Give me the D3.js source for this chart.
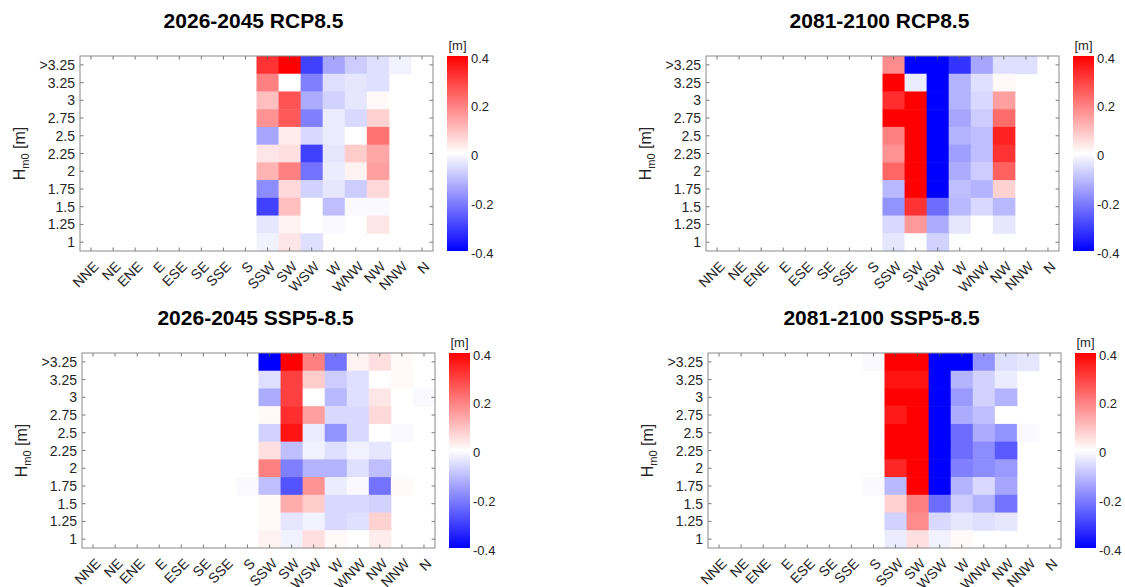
<!DOCTYPE html>
<html>
<head>
<meta charset="utf-8">
<script src="https://cdn.jsdelivr.net/npm/d3@7"></script>
<style>
  body { margin: 0; background: #fff; }
  svg { font-family: "Liberation Sans", Arial, sans-serif; }
</style>
</head>
<body>
<svg width="1125" height="587"></svg>
<script>
const _ = null;
const directions = ["NNE","NE","ENE","E","ESE","SE","SSE","S","SSW","SW","WSW","W","WNW","NW","NNW","N"];
// wave height classes, top row first
const heights = [">3.25","3.25","3","2.75","2.5","2.25","2","1.75","1.5","1.25","1"];
const colorTicks = [0.4, 0.2, 0, -0.2, -0.4];
const titles = ["2026-2045 RCP8.5", "2081-2100 RCP8.5", "2026-2045 SSP5-8.5", "2081-2100 SSP5-8.5"];

// change in wave height [m], rows follow `heights`, columns follow `directions`
const rcp2026 = [
  [_,_,_,_,_,_,_,_, 0.32, 0.40,-0.30,-0.14,-0.08,-0.05,-0.02,_],
  [_,_,_,_,_,_,_,_, 0.20, 0.00,-0.20,-0.05,-0.04,-0.05,_,_],
  [_,_,_,_,_,_,_,_, 0.10, 0.27,-0.13,-0.07,-0.04, 0.01,_,_],
  [_,_,_,_,_,_,_,_, 0.17, 0.26,-0.20,-0.03,-0.06, 0.07,_,_],
  [_,_,_,_,_,_,_,_,-0.14, 0.03,-0.06,-0.03, 0.00, 0.22,_,_],
  [_,_,_,_,_,_,_,_, 0.04, 0.05,-0.30,-0.04, 0.08, 0.14,_,_],
  [_,_,_,_,_,_,_,_, 0.12, 0.20,-0.22,-0.03, 0.02, 0.15,_,_],
  [_,_,_,_,_,_,_,_,-0.18, 0.06,-0.07,-0.04,-0.08, 0.06,_,_],
  [_,_,_,_,_,_,_,_,-0.30, 0.10, 0.00,-0.10,-0.01,-0.01,_,_],
  [_,_,_,_,_,_,_,_,-0.04, 0.02, 0.00,-0.01, 0.00, 0.04,_,_],
  [_,_,_,_,_,_,_,_,-0.02, 0.04,-0.05,_,_,_,_,_]
];
const rcp2081 = [
  [_,_,_,_,_,_,_,_, 0.18,-0.40,-0.40,-0.32,-0.14,-0.05,-0.05,_],
  [_,_,_,_,_,_,_,_, 0.40,-0.03,-0.40,-0.12,-0.05, 0.01,_,_],
  [_,_,_,_,_,_,_,_, 0.33, 0.40,-0.40,-0.12,-0.06, 0.15,_,_],
  [_,_,_,_,_,_,_,_, 0.40, 0.40,-0.40,-0.14,-0.08, 0.23,_,_],
  [_,_,_,_,_,_,_,_, 0.20, 0.40,-0.40,-0.12,-0.10, 0.35,_,_],
  [_,_,_,_,_,_,_,_, 0.17, 0.40,-0.40,-0.15,-0.10, 0.32,_,_],
  [_,_,_,_,_,_,_,_, 0.24, 0.40,-0.40,-0.13,-0.08, 0.25,_,_],
  [_,_,_,_,_,_,_,_,-0.11, 0.40,-0.40,-0.10,-0.12, 0.07,_,_],
  [_,_,_,_,_,_,_,_,-0.17, 0.32,-0.23,-0.11,-0.06,-0.11,_,_],
  [_,_,_,_,_,_,_,_,-0.06, 0.16,-0.13,-0.04, 0.00,-0.04,_,_],
  [_,_,_,_,_,_,_,_,-0.04, 0.00,-0.07,_,_,_,_,_]
];
const ssp2026 = [
  [_,_,_,_,_,_,_,_,-0.40, 0.40, 0.20,-0.22, 0.02, 0.05, 0.01, 0.00],
  [_,_,_,_,_,_,_,_,-0.05, 0.30, 0.08,-0.08,-0.05, 0.00, 0.01,_],
  [_,_,_,_,_,_,_,_,-0.13, 0.30, 0.00,-0.11,-0.05, 0.04, 0.00,-0.01],
  [_,_,_,_,_,_,_,_, 0.01, 0.33, 0.15,-0.06,-0.06, 0.06,_,_],
  [_,_,_,_,_,_,_,_,-0.07, 0.37,-0.03,-0.17,-0.06, 0.00,-0.01,_],
  [_,_,_,_,_,_,_,_, 0.05,-0.10,-0.02,-0.05,-0.02,-0.04,_,_],
  [_,_,_,_,_,_,_,_, 0.20,-0.20,-0.12,-0.12,-0.05,-0.10,_,_],
  [_,_,_,_,_,_,_,-0.01,-0.10,-0.27, 0.17,-0.03,-0.01,-0.22, 0.01,_],
  [_,_,_,_,_,_,_,_, 0.01, 0.13, 0.08,-0.06,-0.06,-0.07,_,_],
  [_,_,_,_,_,_,_,_, 0.01,-0.04,-0.02,-0.06,-0.05, 0.07,_,_],
  [_,_,_,_,_,_,_,_, 0.02,-0.02, 0.05, 0.01, 0.00, 0.03,_,_]
];
const ssp2081 = [
  [_,_,_,_,_,_,_,-0.01, 0.40, 0.40,-0.40,-0.40,-0.17,-0.05,-0.04,_],
  [_,_,_,_,_,_,_,_, 0.37, 0.37,-0.40,-0.12,-0.07,-0.03,_,_],
  [_,_,_,_,_,_,_,_, 0.40, 0.40,-0.40,-0.16,-0.07,-0.12,_,_],
  [_,_,_,_,_,_,_,_, 0.36, 0.40,-0.40,-0.13,-0.10, 0.00,_,_],
  [_,_,_,_,_,_,_,_, 0.40, 0.40,-0.40,-0.23,-0.13,-0.17,-0.01,_],
  [_,_,_,_,_,_,_,_, 0.40, 0.40,-0.40,-0.23,-0.18,-0.26,_,_],
  [_,_,_,_,_,_,_,_, 0.34, 0.40,-0.40,-0.20,-0.18,-0.16,_,_],
  [_,_,_,_,_,_,_,-0.01,-0.11, 0.40,-0.40,-0.12,-0.06,-0.14,_,_],
  [_,_,_,_,_,_,_,_, 0.07, 0.20,-0.23,-0.08,-0.12,-0.22,_,_],
  [_,_,_,_,_,_,_,_,-0.07, 0.18,-0.06,-0.04,-0.05,-0.04,_,_],
  [_,_,_,_,_,_,_,_,-0.03, 0.05,-0.02, 0.01,_,_,_,_]
];
const panelData = [rcp2026, rcp2081, ssp2026, ssp2081];

// layout
const plotW = 353, plotH = 195;
const origins = [[80, 56], [706, 56], [82, 353], [708, 353]];

const svg = d3.select("svg");
const color = d3.scaleLinear()
  .domain([-0.4, 0, 0.4])
  .range(["#0000ff", "#ffffff", "#ff0000"])
  .clamp(true);

const x = d3.scaleBand().domain(directions).range([0, plotW]);
const y = d3.scaleBand().domain(heights).range([0, plotH]);
const cb = d3.scaleLinear().domain([-0.4, 0.4]).range([plotH, 0]);

// gradient for the colorbar
const defs = svg.append("defs");
const grad = defs.append("linearGradient")
  .attr("id", "cbGrad").attr("x1", 0).attr("y1", 1).attr("x2", 0).attr("y2", 0);
[-0.4, 0, 0.4].forEach(function(v) {
  grad.append("stop").attr("offset", (v + 0.4) / 0.8).attr("stop-color", color(v));
});

panelData.forEach(function(matrix, p) {
  const g = svg.append("g")
    .attr("transform", "translate(" + origins[p][0] + "," + origins[p][1] + ")");

  // cells
  const cells = [];
  matrix.forEach(function(row, i) {
    row.forEach(function(v, j) {
      if (v !== null) cells.push({dir: directions[j], h: heights[i], v: v});
    });
  });
  g.selectAll(".cell")
    .data(cells)
    .enter().append("rect")
      .attr("class", "cell")
      .attr("x", function(d) { return x(d.dir); })
      .attr("y", function(d) { return y(d.h); })
      .attr("width", x.bandwidth() + 0.5)
      .attr("height", y.bandwidth() + 0.5)
      .attr("fill", function(d) { return color(d.v); });

  // inward ticks on all four sides
  const tickLen = 3.5;
  const xa = g.append("g").attr("class", "ticks").attr("stroke", "#555").attr("stroke-width", 0.8);
  directions.forEach(function(d) {
    const cx = x(d) + x.bandwidth() / 2;
    xa.append("line").attr("x1", cx).attr("x2", cx).attr("y1", plotH).attr("y2", plotH - tickLen);
    xa.append("line").attr("x1", cx).attr("x2", cx).attr("y1", 0).attr("y2", tickLen);
  });
  heights.forEach(function(h) {
    const cy = y(h) + y.bandwidth() / 2;
    xa.append("line").attr("x1", 0).attr("x2", tickLen).attr("y1", cy).attr("y2", cy);
    xa.append("line").attr("x1", plotW).attr("x2", plotW - tickLen).attr("y1", cy).attr("y2", cy);
  });

  // frame
  g.append("rect")
    .attr("width", plotW).attr("height", plotH)
    .attr("fill", "none").attr("stroke", "#8a8a8a").attr("stroke-width", 1);

  // x tick labels, rotated
  g.selectAll(".xlab")
    .data(directions)
    .enter().append("text")
      .attr("class", "xlab")
      .attr("transform", function(d) {
        return "translate(" + (x(d) + x.bandwidth() / 2 + 5) + "," + (plotH + 13) + ") rotate(-45)";
      })
      .attr("text-anchor", "end")
      .attr("dy", "0.35em")
      .attr("font-size", 14)
      .attr("fill", "#262626")
      .text(function(d) { return d; });

  // y tick labels
  g.selectAll(".ylab")
    .data(heights)
    .enter().append("text")
      .attr("class", "ylab")
      .attr("x", -5)
      .attr("y", function(d) { return y(d) + y.bandwidth() / 2; })
      .attr("dy", "0.36em")
      .attr("text-anchor", "end")
      .attr("font-size", 14)
      .attr("fill", "#262626")
      .text(function(d) { return d; });

  // y axis title
  const yt = g.append("text")
    .attr("transform", "translate(-55," + (plotH / 2) + ") rotate(-90)")
    .attr("text-anchor", "middle")
    .attr("font-size", 16)
    .attr("fill", "#262626");
  yt.append("tspan").text("H");
  yt.append("tspan").attr("font-size", 11).attr("dy", 4).text("m0");
  yt.append("tspan").attr("dy", -4).text(" [m]");

  // title
  g.append("text")
    .attr("x", plotW / 2 - 3)
    .attr("y", -28)
    .attr("text-anchor", "middle")
    .attr("font-size", 21)
    .attr("font-weight", "bold")
    .attr("fill", "#000")
    .text(titles[p]);

  // colorbar
  const cbg = g.append("g").attr("transform", "translate(" + (plotW + 14) + ",0)");
  cbg.append("rect")
    .attr("width", 21).attr("height", plotH)
    .attr("fill", "url(#cbGrad)");
  cbg.selectAll(".cbt")
    .data(colorTicks)
    .enter().append("text")
      .attr("class", "cbt")
      .attr("x", 24)
      .attr("y", function(d) { return cb(d); })
      .attr("dy", "0.5em")
      .attr("font-size", 13)
      .attr("fill", "#262626")
      .text(function(d) { return d; });
  cbg.append("text")
    .attr("x", 10.5).attr("y", -6)
    .attr("text-anchor", "middle")
    .attr("font-size", 13)
    .attr("fill", "#262626")
    .text("[m]");
});
</script>
</body>
</html>
